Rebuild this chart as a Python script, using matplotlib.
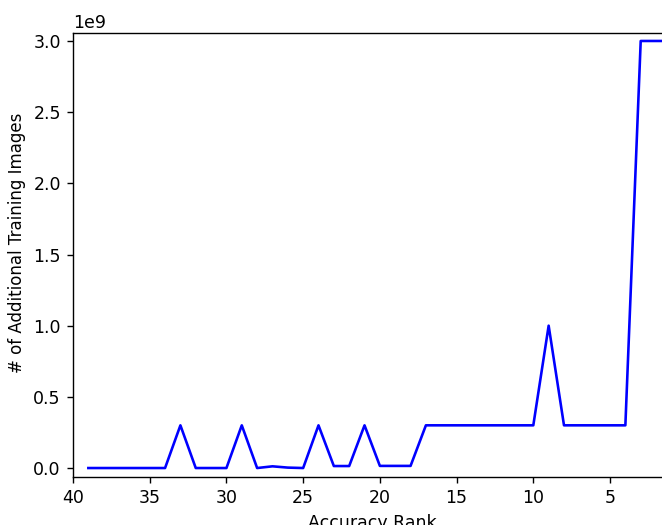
import matplotlib
matplotlib.use('Agg')
import matplotlib.pyplot as plt

# accuracy rank vs extra training images (in units of 1e9)
ranks = [39, 38, 37, 36, 35, 34, 33, 32, 31, 30, 29, 28, 27, 26, 25, 24, 23, 22, 21, 20,
         19, 18, 17, 16, 15, 14, 13, 12, 11, 10, 9, 8, 7, 6, 5, 4, 3, 2, 1]
images_e9 = [0, 0, 0, 0, 0, 0, 0.3, 0, 0, 0, 0.3, 0, 0.012, 0.003, 0, 0.3, 0.014, 0.014, 0.3, 0.015,
             0.015, 0.015, 0.3, 0.3, 0.3, 0.3, 0.3, 0.3, 0.3, 0.3, 1.0, 0.3, 0.3, 0.3, 0.3, 0.3, 3.0, 3.0, 3.0]
images = [v * 1e9 for v in images_e9]

dpi = 125
fig = plt.figure(figsize=(662 / dpi, 525 / dpi), dpi=dpi)
ax = fig.add_axes([73 / 662, 1 - 477 / 525, (671.4 - 73) / 662, (477 - 33) / 525])
ax.plot(ranks, images, color='blue')
ax.set_xlim(40, 1)
ax.set_ylim(-0.063e9, 3.056e9)
ax.set_xticks([40, 35, 30, 25, 20, 15, 10, 5])
ax.set_xlabel('Accuracy Rank')
ax.set_ylabel('# of Additional Training Images', fontsize=9.6)
ax.yaxis.set_label_coords(-0.078, 0.528)

fig.savefig('out.png', dpi=dpi)
